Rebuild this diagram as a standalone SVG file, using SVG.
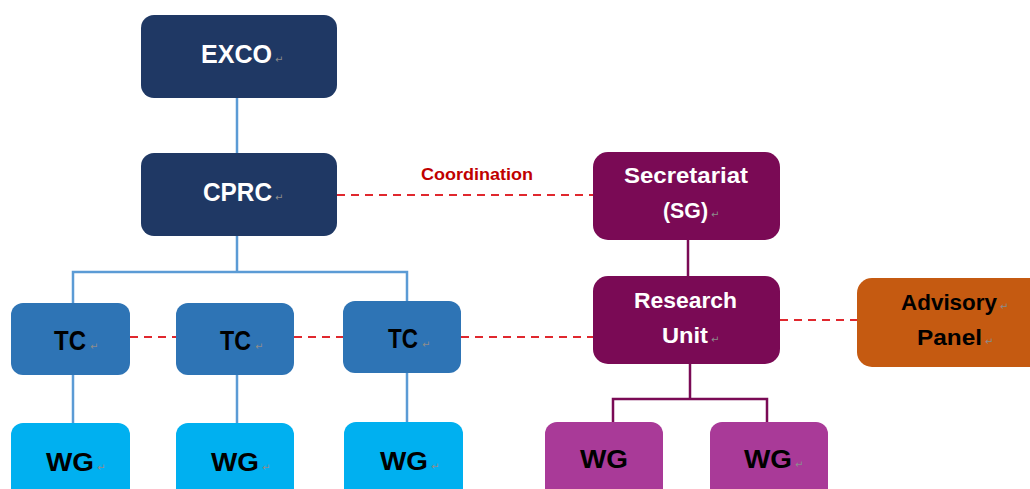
<svg xmlns="http://www.w3.org/2000/svg" width="1030" height="489" viewBox="0 0 1030 489">
<style>
text{font-family:"Liberation Sans",Arial,sans-serif;font-weight:bold}
.w{fill:#ffffff}
.k{fill:#000000}
.pm{font-family:"DejaVu Sans",sans-serif;font-weight:normal;font-size:10px;fill:#8c8c8c}
.navy{fill:#1F3864}
.tc{fill:#2E74B5}
.wg{fill:#00B0F0}
.plum{fill:#7A0A55}
.pwg{fill:#A93A98}
.adv{fill:#C55A11}
.bl{stroke:#5B9BD5;stroke-width:2.5;fill:none}
.pl{stroke:#7A0A55;stroke-width:2.5;fill:none}
.rd{stroke:#E0282E;stroke-width:2;stroke-dasharray:8 6;fill:none}
</style>
<g id="connectors">
<line class="bl" x1="237" y1="98" x2="237" y2="153"/>
<polyline class="bl" points="237,236 237,272"/>
<polyline class="bl" points="73,303 73,272 407,272 407,301"/>
<line class="bl" x1="73" y1="375" x2="73" y2="423"/>
<line class="bl" x1="237" y1="375" x2="237" y2="423"/>
<line class="bl" x1="407" y1="373" x2="407" y2="422"/>
<line class="pl" x1="688" y1="240" x2="688" y2="276"/>
<line class="pl" x1="690" y1="364" x2="690" y2="399"/>
<polyline class="pl" points="613,422 613,399 767,399 767,422"/>
<line class="rd" x1="337" y1="195" x2="593" y2="195"/>
<line class="rd" x1="130" y1="337" x2="176" y2="337"/>
<line class="rd" x1="294" y1="337" x2="343" y2="337"/>
<line class="rd" x1="461" y1="337" x2="593" y2="337"/>
<line class="rd" x1="780" y1="320" x2="857" y2="320"/>
<text x="421" y="180" font-size="17" fill="#C00000" textLength="112" lengthAdjust="spacingAndGlyphs">Coordination</text>
</g>
<g id="exco">
<rect class="navy" x="141" y="15" width="196" height="83" rx="13"/>
<text class="w" x="201" y="63" font-size="25" textLength="71" lengthAdjust="spacingAndGlyphs">EXCO</text>
<text class="pm" x="275" y="63">↵</text>
</g>
<g id="cprc">
<rect class="navy" x="141" y="153" width="196" height="83" rx="13"/>
<text class="w" x="203" y="201" font-size="25" textLength="69" lengthAdjust="spacingAndGlyphs">CPRC</text>
<text class="pm" x="275" y="201">↵</text>
</g>
<g id="tc1">
<rect class="tc" x="11" y="303" width="119" height="72" rx="12"/>
<text class="k" x="54" y="350" font-size="27" textLength="32" lengthAdjust="spacingAndGlyphs">TC</text>
<text class="pm" x="90" y="350">↵</text>
</g>
<g id="tc2">
<rect class="tc" x="176" y="303" width="118" height="72" rx="12"/>
<text class="k" x="220" y="350" font-size="27" textLength="31" lengthAdjust="spacingAndGlyphs">TC</text>
<text class="pm" x="255" y="350">↵</text>
</g>
<g id="tc3">
<rect class="tc" x="343" y="301" width="118" height="72" rx="12"/>
<text class="k" x="388" y="348" font-size="27" textLength="30" lengthAdjust="spacingAndGlyphs">TC</text>
<text class="pm" x="422" y="348">↵</text>
</g>
<g id="wg1">
<rect class="wg" x="11" y="423" width="119" height="80" rx="12"/>
<text class="k" x="46" y="471" font-size="26" textLength="48" lengthAdjust="spacingAndGlyphs">WG</text>
<text class="pm" x="97" y="471">↵</text>
</g>
<g id="wg2">
<rect class="wg" x="176" y="423" width="118" height="80" rx="12"/>
<text class="k" x="211" y="471" font-size="26" textLength="48" lengthAdjust="spacingAndGlyphs">WG</text>
<text class="pm" x="262" y="471">↵</text>
</g>
<g id="wg3">
<rect class="wg" x="344" y="422" width="119" height="80" rx="12"/>
<text class="k" x="380" y="470" font-size="26" textLength="48" lengthAdjust="spacingAndGlyphs">WG</text>
<text class="pm" x="431" y="470">↵</text>
</g>
<g id="secretariat">
<rect class="plum" x="593" y="152" width="187" height="88" rx="15"/>
<text class="w" x="624" y="183" font-size="22" textLength="124" lengthAdjust="spacingAndGlyphs">Secretariat</text>
<text class="w" x="663" y="218" font-size="22" textLength="45" lengthAdjust="spacingAndGlyphs">(SG)</text>
<text class="pm" x="711" y="218">↵</text>
</g>
<g id="research">
<rect class="plum" x="593" y="276" width="187" height="88" rx="15"/>
<text class="w" x="634" y="308" font-size="22" textLength="103" lengthAdjust="spacingAndGlyphs">Research</text>
<text class="w" x="662" y="343" font-size="22" textLength="46" lengthAdjust="spacingAndGlyphs">Unit</text>
<text class="pm" x="711" y="343">↵</text>
</g>
<g id="advisory">
<rect class="adv" x="857" y="278" width="190" height="89" rx="15"/>
<text class="k" x="901" y="310" font-size="22" textLength="96" lengthAdjust="spacingAndGlyphs">Advisory</text>
<text class="pm" x="1000" y="310">↵</text>
<text class="k" x="917" y="345" font-size="22" textLength="65" lengthAdjust="spacingAndGlyphs">Panel</text>
<text class="pm" x="985" y="345">↵</text>
</g>
<g id="wg4">
<rect class="pwg" x="545" y="422" width="118" height="80" rx="12"/>
<text class="k" x="580" y="468" font-size="26" textLength="48" lengthAdjust="spacingAndGlyphs">WG</text>
</g>
<g id="wg5">
<rect class="pwg" x="710" y="422" width="118" height="80" rx="12"/>
<text class="k" x="744" y="468" font-size="26" textLength="48" lengthAdjust="spacingAndGlyphs">WG</text>
<text class="pm" x="795" y="468">↵</text>
</g>
</svg>
